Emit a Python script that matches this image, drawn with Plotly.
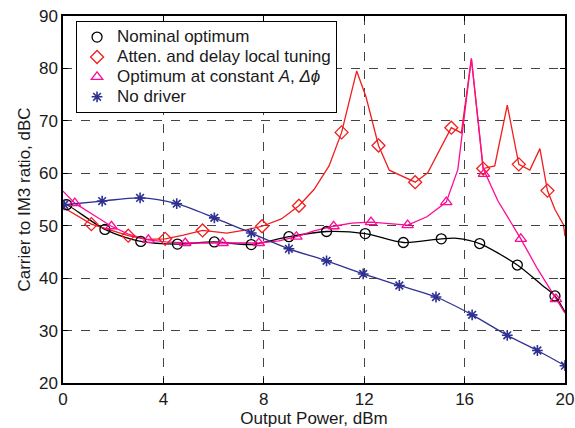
import plotly.graph_objects as go

# ---- data ----
# Nominal optimum (black circles, smooth line)
nom_x = [0.0, 0.15, 1.67, 3.1, 4.56, 6.03, 7.5, 9.0, 10.5, 12.04, 13.56, 15.07, 15.7, 16.6, 18.1, 19.1, 19.6, 20.0]
nom_y = [54.1, 54.0, 49.3, 47.0, 46.5, 46.9, 46.4, 47.9, 48.9, 48.5, 46.8, 47.5, 47.6, 46.6, 42.5, 38.6, 36.6, 33.5]
nom_mx = [0.15, 1.67, 3.1, 4.56, 6.03, 7.5, 9.0, 10.5, 12.04, 13.56, 15.07, 16.6, 18.1, 19.6]
nom_my = [54.0, 49.3, 47.0, 46.5, 46.9, 46.4, 47.9, 48.9, 48.5, 46.8, 47.5, 46.6, 42.5, 36.6]

# Atten. and delay local tuning (red diamonds)
att_x = [0.0, 1.13, 2.6, 3.3, 4.07, 4.8, 5.56, 6.53, 7.3, 7.93, 8.7, 9.4, 10.0, 10.6, 11.1, 11.7, 12.07, 12.57,
         13.0, 14.03, 14.53, 15.47, 15.87, 16.27, 16.74, 17.2, 17.7, 18.16, 18.6, 19.0, 19.3, 19.6, 19.94, 20.0]
att_y = [53.5, 50.3, 48.1, 47.4, 47.5, 48.2, 49.1, 48.6, 49.2, 49.9, 51.3, 53.8, 56.9, 61.4, 67.8, 79.5, 74.6, 65.3,
         60.6, 58.3, 60.1, 68.7, 67.7, 81.9, 60.9, 61.4, 73.0, 61.7, 60.6, 64.7, 56.7, 53.1, 50.2, 48.0]
att_mx = [1.13, 2.6, 4.07, 5.56, 7.93, 9.4, 11.1, 12.57, 14.03, 15.47, 16.74, 18.16, 19.3]
att_my = [50.3, 48.1, 47.5, 49.1, 49.9, 53.8, 67.8, 65.3, 58.3, 68.7, 60.9, 61.7, 56.7]

# Optimum at constant A, dphi (magenta triangles)
opt_x = [0.0, 0.47, 1.2, 1.93, 2.6, 3.4, 4.1, 4.87, 6.36, 7.8, 8.6, 9.3, 10.0, 10.78, 11.5, 12.27, 13.0, 13.73,
         14.5, 15.27, 15.73, 15.9, 16.0, 16.27, 16.74, 17.33, 17.8, 18.24, 18.9, 19.64, 20.0]
opt_y = [56.6, 54.3, 52.1, 49.9, 48.4, 47.3, 46.9, 46.7, 46.7, 46.7, 47.1, 47.9, 49.0, 49.9, 50.5, 50.7, 50.4, 50.1,
         51.7, 54.5, 60.7, 67.1, 70.9, 81.9, 60.9, 54.7, 51.0, 47.5, 41.8, 36.0, 33.3]
opt_mx = [0.47, 1.93, 3.4, 4.87, 6.36, 7.8, 9.3, 10.78, 12.27, 13.73, 15.27, 16.77, 18.24, 19.64]
opt_my = [54.3, 49.9, 47.3, 46.7, 46.7, 46.7, 47.9, 49.9, 50.7, 50.1, 54.5, 59.9, 47.5, 36.0]

# No driver (blue stars)
nod_x = [0.05, 1.56, 3.07, 4.53, 6.03, 7.5, 9.0, 10.5, 11.96, 13.4, 14.86, 16.3, 17.7, 18.9, 20.0]
nod_y = [54.0, 54.7, 55.3, 54.2, 51.5, 48.6, 45.6, 43.3, 40.8, 38.6, 36.4, 33.0, 29.1, 26.2, 23.3]

series_names = ["Nominal optimum", "Atten. and delay local tuning",
                "Optimum at constant <i>A</i>, <i>Δϕ</i>", "No driver"]

x_ticks = [0, 4, 8, 12, 16, 20]
y_ticks = [20, 30, 40, 50, 60, 70, 80, 90]

BLACK = "#000000"
RED = "#f21d1d"
MAG = "#ff0a96"
BLUE = "#2e3192"


def big(s):
    return '<span style="font-size:17px">' + s + "</span>"


fig = go.Figure()

# lines (no legend)
fig.add_trace(go.Scatter(x=nom_x, y=nom_y, mode="lines", line=dict(color=BLACK, width=1.3, shape="spline", smoothing=0.8), showlegend=False, hoverinfo="skip"))
fig.add_trace(go.Scatter(x=att_x, y=att_y, mode="lines", line=dict(color=RED, width=1.3), showlegend=False, hoverinfo="skip"))
fig.add_trace(go.Scatter(x=opt_x, y=opt_y, mode="lines", line=dict(color=MAG, width=1.3), showlegend=False, hoverinfo="skip"))
fig.add_trace(go.Scatter(x=nod_x, y=nod_y, mode="lines", line=dict(color=BLUE, width=1.3, shape="spline", smoothing=0.8), showlegend=False, hoverinfo="skip"))

# markers (legend)
fig.add_trace(go.Scatter(x=nom_mx, y=nom_my, mode="markers", name=big(series_names[0]),
                         marker=dict(symbol="circle-open", size=10, color=BLACK, line=dict(width=1.3, color=BLACK))))
fig.add_trace(go.Scatter(x=att_mx, y=att_my, mode="markers", name=big(series_names[1]),
                         marker=dict(symbol="diamond-open", size=10, color=RED, line=dict(width=1.3, color=RED))))
fig.add_trace(go.Scatter(x=opt_mx, y=opt_my, mode="markers", name=big(series_names[2]),
                         marker=dict(symbol="triangle-up-open", size=10, color=MAG, line=dict(width=1.3, color=MAG))))
fig.add_trace(go.Scatter(x=nod_x, y=nod_y, mode="markers", name=big(series_names[3]),
                         marker=dict(symbol="asterisk-open", size=9, color=BLUE, line=dict(width=1.6, color=BLUE))))

axis_common = dict(
    showline=True, linecolor="black", linewidth=1.5, mirror="ticks",
    ticks="inside", ticklen=5, tickcolor="black", tickwidth=1,
    showgrid=True, gridcolor="#444444", gridwidth=1, griddash="dash",
    zeroline=False, tickfont=dict(size=17, color="#1a1a1a"), automargin=False,
)

fig.update_layout(
    width=575, height=428,
    margin=dict(l=63, r=10, t=16, b=45),
    paper_bgcolor="white", plot_bgcolor="white",
    font=dict(family="Liberation Sans, Arial, sans-serif", size=17, color="#1a1a1a"),
    xaxis=dict(range=[0, 20], tickvals=x_ticks, title=dict(text="Output Power, dBm", font=dict(size=17), standoff=2), **axis_common),
    yaxis=dict(range=[20, 90], tickvals=y_ticks, title=dict(text="Carrier to IM3 ratio, dBC", font=dict(size=17), standoff=4), **axis_common),
    legend=dict(x=0.026, y=0.986, xanchor="left", yanchor="top", bgcolor="white",
                bordercolor="black", borderwidth=1, font=dict(size=13, color="#1a1a1a"), tracegroupgap=0,
                itemwidth=30),
    showlegend=True,
)

fig.write_html("out.html")
